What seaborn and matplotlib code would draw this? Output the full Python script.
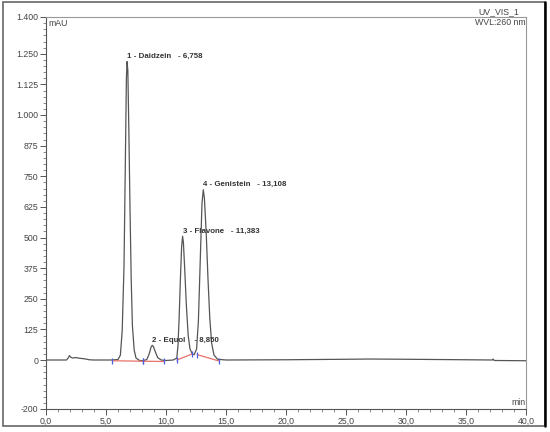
import numpy as np
import pandas as pd
import matplotlib
matplotlib.use("Agg")
import matplotlib.pyplot as plt
import seaborn as sns
from matplotlib.patches import Rectangle
from matplotlib.lines import Line2D
from matplotlib.ticker import MultipleLocator, FixedLocator

# traced chromatogram (time in min, signal in mAU)
tiempo = [0.0, 1.7, 1.85, 1.95, 2.05, 2.2, 2.5, 2.8, 3.2, 3.6, 4.0, 5.5,
          6.0, 6.2, 6.35, 6.5, 6.6, 6.7, 6.758, 6.82, 6.9, 7.0, 7.1, 7.2, 7.35, 7.5, 7.8,
          8.1, 8.4, 8.6, 8.75, 8.85, 8.95, 9.1, 9.3, 9.6, 10.0, 10.6,
          10.9, 11.0, 11.1, 11.2, 11.3, 11.383, 11.45, 11.55, 11.7, 11.85, 12.0, 12.2, 12.35,
          12.55, 12.7, 12.85, 13.0, 13.108, 13.2, 13.35, 13.5, 13.65, 13.8, 14.0, 14.3,
          15.0, 20.0, 25.0, 27.0, 30.0, 35.0, 37.2, 37.25, 37.35, 40.0]
senal = [0, 0, 8, 18, 12, 8, 10, 7, 5, 1, 0, 0,
         2, 20, 120, 380, 760, 1150, 1218, 1180, 950, 620, 330, 140, 40, 8, -2,
         -3, 2, 25, 52, 60, 55, 35, 10, 0, -2, 0,
         8, 60, 180, 330, 460, 505, 480, 380, 220, 100, 45, 24, 22,
         45, 160, 400, 640, 695, 660, 520, 330, 170, 70, 20, 3,
         0, 1, 3, 4, 3, 1, 0, 4, -2, -3]

# integration baselines
base_t0 = [5.5, 8.05, 10.9, 12.6]
base_y0 = [-3, -5, 0, 22]
base_t1 = [8.05, 9.8, 12.2, 14.4]
base_y1 = [-5, -6, 25, -4]

# peak labels
picos = ["1 - Daidzein   - 6,758", "2 - Equol    - 8,850",
         "3 - Flavone   - 11,383", "4 - Genistein   - 13,108"]
picos_t = [6.758, 8.85, 11.383, 13.108]
picos_y = [1218, 60, 505, 695]

y_ticks = [1400, 1250, 1125, 1000, 875, 750, 625, 500, 375, 250, 125, 0, -200]
y_labels = ["1.400", "1.250", "1.125", "1.000", "875", "750", "625", "500",
            "375", "250", "125", "0", "-200"]
x_ticks = [0, 5, 10, 15, 20, 25, 30, 35, 40]
x_labels = ["0,0", "5,0", "10,0", "15,0", "20,0", "25,0", "30,0", "35,0", "40,0"]

sns.set_style("white")
plt.rcParams['font.family'] = ['Liberation Sans', 'DejaVu Sans']

fig = plt.figure(figsize=(5.5, 4.32), dpi=100)
ax = fig.add_axes([46 / 550, 1 - 409 / 432, (526 - 46) / 550, (409 - 17) / 432])

df = pd.DataFrame({"t": tiempo, "y": senal})
sns.lineplot(data=df, x="t", y="y", ax=ax, color="#555555", lw=0.9,
             sort=False, estimator=None)

for t0, y0, t1, y1 in zip(base_t0, base_y0, base_t1, base_y1):
    ax.plot([t0, t1], [y0, y1], color="#e8706a", lw=0.9)
    ax.plot([t0, t1], [y0, y1], ls="none", marker="|", ms=4, mew=0.9, color="#4a5ee0")

for txt, t, y in zip(picos, picos_t, picos_y):
    ax.text(t, y + 6, txt, fontsize=5.7, fontweight="bold", color="#333333",
            ha="left", va="bottom")

ax.set_xlim(0, 40)
ax.set_ylim(-200, 1400)
ax.yaxis.set_major_locator(FixedLocator(y_ticks))
ax.set_yticklabels(y_labels)
ax.yaxis.set_minor_locator(MultipleLocator(25))
ax.set_xticks(x_ticks)
ax.set_xticklabels(x_labels)
ax.xaxis.set_minor_locator(MultipleLocator(1))
ax.tick_params(which="major", direction="out", length=4, width=0.7, colors="#555555",
               labelsize=6.3, labelcolor="#444444", left=True, bottom=True, pad=1.5)
ax.tick_params(which="minor", direction="out", length=2, width=0.6, colors="#777777",
               left=True, bottom=True)
ax.set_xlabel("")
ax.set_ylabel("")
for s in ["left", "bottom"]:
    ax.spines[s].set_color("#555555")
    ax.spines[s].set_linewidth(0.8)
for s in ["top", "right"]:
    ax.spines[s].set_color("#999999")
    ax.spines[s].set_linewidth(0.8)

ax.text(0.005, 0.995, "mAU", transform=ax.transAxes, fontsize=6.3, color="#444444",
        ha="left", va="top")
ax.text(0.998, 0.005, "min", transform=ax.transAxes, fontsize=6.3, color="#444444",
        ha="right", va="bottom")
ax.text(1.0, 0.997, "WVL:260 nm", transform=ax.transAxes, fontsize=6.3, color="#444444",
        ha="right", va="top")
ax.text(0.985, 1.003, "UV_VIS_1", transform=ax.transAxes, fontsize=6.3, color="#444444",
        ha="right", va="bottom")

# outer frame
fig.patches.append(Rectangle((3 / 550, 1 - 426 / 432), 542 / 550, 424 / 432,
                             transform=fig.transFigure, fill=False,
                             edgecolor="#666666", lw=1.2))
fig.lines.append(Line2D([545 / 550, 545 / 550], [1 - 426 / 432, 1 - 2 / 432],
                        transform=fig.transFigure, color="black", lw=1.8))

fig.savefig("out.png", dpi=100)
